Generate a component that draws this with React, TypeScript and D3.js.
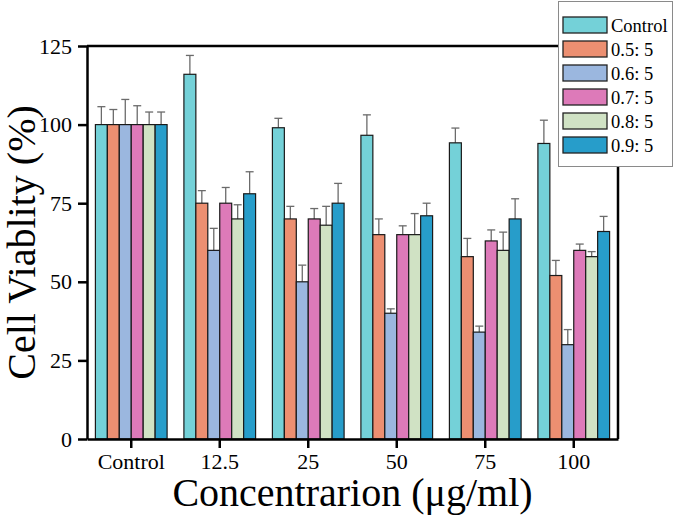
import React, { useRef, useEffect } from 'react';
import * as d3 from 'd3';

const categories = ['Control', '12.5', '25', '50', '75', '100'];
const seriesNames = ['Control', '0.5: 5', '0.6: 5', '0.7: 5', '0.8: 5', '0.9: 5'];
const seriesColors = ['#74D1D8', '#EC8F71', '#9BB7DF', '#DD7AB9', '#D0E2C4', '#279DCA'];

// mean values per series, one entry per concentration
const controlValues = [100, 116, 99, 96.6, 94.2, 94];
const ratio05Values = [100, 75, 70, 65, 58, 52];
const ratio06Values = [100, 60, 50, 40, 34, 30];
const ratio07Values = [100, 75, 70, 65, 63, 60];
const ratio08Values = [100, 70, 68, 65, 60, 58];
const ratio09Values = [100, 78, 75, 71, 70, 66];

// error bar sizes (upper only)
const controlErr = [5.7, 6, 3, 6.5, 4.7, 7.4];
const ratio05Err = [4.8, 4, 4, 5, 5.8, 4.8];
const ratio06Err = [8, 7, 5.3, 1.4, 1.9, 4.8];
const ratio07Err = [6, 5, 3.3, 2.8, 3.5, 2];
const ratio08Err = [4, 4.5, 6, 6.7, 5.8, 1.6];
const ratio09Err = [4, 7, 6.3, 4, 6.4, 4.8];

const yTicks = [0, 25, 50, 75, 100, 125];

const allValues = [controlValues, ratio05Values, ratio06Values, ratio07Values, ratio08Values, ratio09Values];
const allErrors = [controlErr, ratio05Err, ratio06Err, ratio07Err, ratio08Err, ratio09Err];

const W = 675;
const H = 515;
const margin = { top: 46, right: 57, bottom: 76, left: 87 };

const App: React.FC = () => {
  const ref = useRef<SVGSVGElement>(null);

  useEffect(() => {
    if (!ref.current) return;
    const svg = d3.select(ref.current);
    svg.selectAll('*').remove();

    const width = W - margin.left - margin.right;
    const height = H - margin.top - margin.bottom;
    const font = '"Liberation Serif", "Times New Roman", serif';

    const g = svg.append('g').attr('transform', `translate(${margin.left},${margin.top})`);

    const x0 = d3.scaleBand().domain(categories).range([0, width]).paddingInner(0.19).paddingOuter(0.095);
    const x1 = d3.scaleBand().domain(seriesNames).range([0, x0.bandwidth()]);
    const y = d3.scaleLinear().domain([0, 125]).range([height, 0]);

    const data = categories.flatMap((c, ci) =>
      seriesNames.map((s, si) => ({ c, s, si, v: allValues[si][ci], e: allErrors[si][ci] }))
    );

    // error bars (drawn first so bars sit on top)
    const eb = g.append('g').attr('stroke', '#6b6b6b').attr('stroke-width', 1.3);
    data.forEach(d => {
      const cx = x0(d.c)! + x1(d.s)! + x1.bandwidth() / 2;
      eb.append('line').attr('x1', cx).attr('x2', cx).attr('y1', y(d.v)).attr('y2', y(d.v + d.e));
      eb.append('line').attr('x1', cx - 4).attr('x2', cx + 4).attr('y1', y(d.v + d.e)).attr('y2', y(d.v + d.e));
    });

    g.append('g')
      .selectAll('rect')
      .data(data)
      .enter()
      .append('rect')
      .attr('x', d => x0(d.c)! + x1(d.s)!)
      .attr('y', d => y(d.v))
      .attr('width', x1.bandwidth())
      .attr('height', d => height - y(d.v))
      .attr('fill', d => seriesColors[d.si])
      .attr('stroke', '#1a1a1a')
      .attr('stroke-width', 1.2);

    // frame
    g.append('line').attr('x1', 0).attr('x2', width).attr('y1', 0).attr('y2', 0).attr('stroke', '#000').attr('stroke-width', 2.5);
    g.append('line').attr('x1', width).attr('x2', width).attr('y1', 0).attr('y2', height).attr('stroke', '#000').attr('stroke-width', 2.5);

    // x axis
    const xAxis = g.append('g')
      .attr('transform', `translate(0,${height})`)
      .call(d3.axisBottom(x0).tickSize(9).tickPadding(5).tickSizeOuter(0))
      .attr('font-family', font);
    xAxis.select('.domain').attr('stroke', '#000').attr('stroke-width', 2.5);
    xAxis.selectAll('.tick line').attr('stroke', '#000').attr('stroke-width', 2.5);
    xAxis.selectAll('text').style('font-family', font).style('font-size', '22px').attr('fill', '#000');

    // y axis
    const yAxis = g.append('g')
      .call(d3.axisLeft(y).tickValues(yTicks).tickSize(9).tickPadding(6).tickSizeOuter(0))
      .attr('font-family', font);
    yAxis.select('.domain').attr('stroke', '#000').attr('stroke-width', 2.5);
    yAxis.selectAll('.tick line').attr('stroke', '#000').attr('stroke-width', 2.5);
    yAxis.selectAll('text').style('font-family', font).style('font-size', '22px').attr('fill', '#000');

    // axis titles
    svg.append('text')
      .attr('x', margin.left + width / 2)
      .attr('y', 506)
      .attr('text-anchor', 'middle')
      .style('font-family', font)
      .style('font-size', '40px')
      .text('Concentrarion (μg/ml)');

    svg.append('text')
      .attr('transform', `translate(35,${margin.top + height / 2}) rotate(-90)`)
      .attr('text-anchor', 'middle')
      .style('font-family', font)
      .style('font-size', '40px')
      .text('Cell Viablity (%)');

    // legend
    const lg = svg.append('g');
    lg.append('rect')
      .attr('x', 558.5).attr('y', 1.5).attr('width', 114).attr('height', 165)
      .attr('fill', '#fff').attr('stroke', '#8a8a8a').attr('stroke-width', 1);
    seriesNames.forEach((s, i) => {
      lg.append('rect')
        .attr('x', 563).attr('y', 17 + i * 24).attr('width', 44).attr('height', 16)
        .attr('fill', seriesColors[i]).attr('stroke', '#222').attr('stroke-width', 1.3);
      lg.append('text')
        .attr('x', 611).attr('y', 31.5 + i * 24)
        .style('font-family', font).style('font-size', '18.5px')
        .text(s);
    });
  }, []);

  return <svg ref={ref} width={W} height={H} style={{ display: 'block', position: 'absolute', left: 0, top: 0 }} />;
};

export default App;
